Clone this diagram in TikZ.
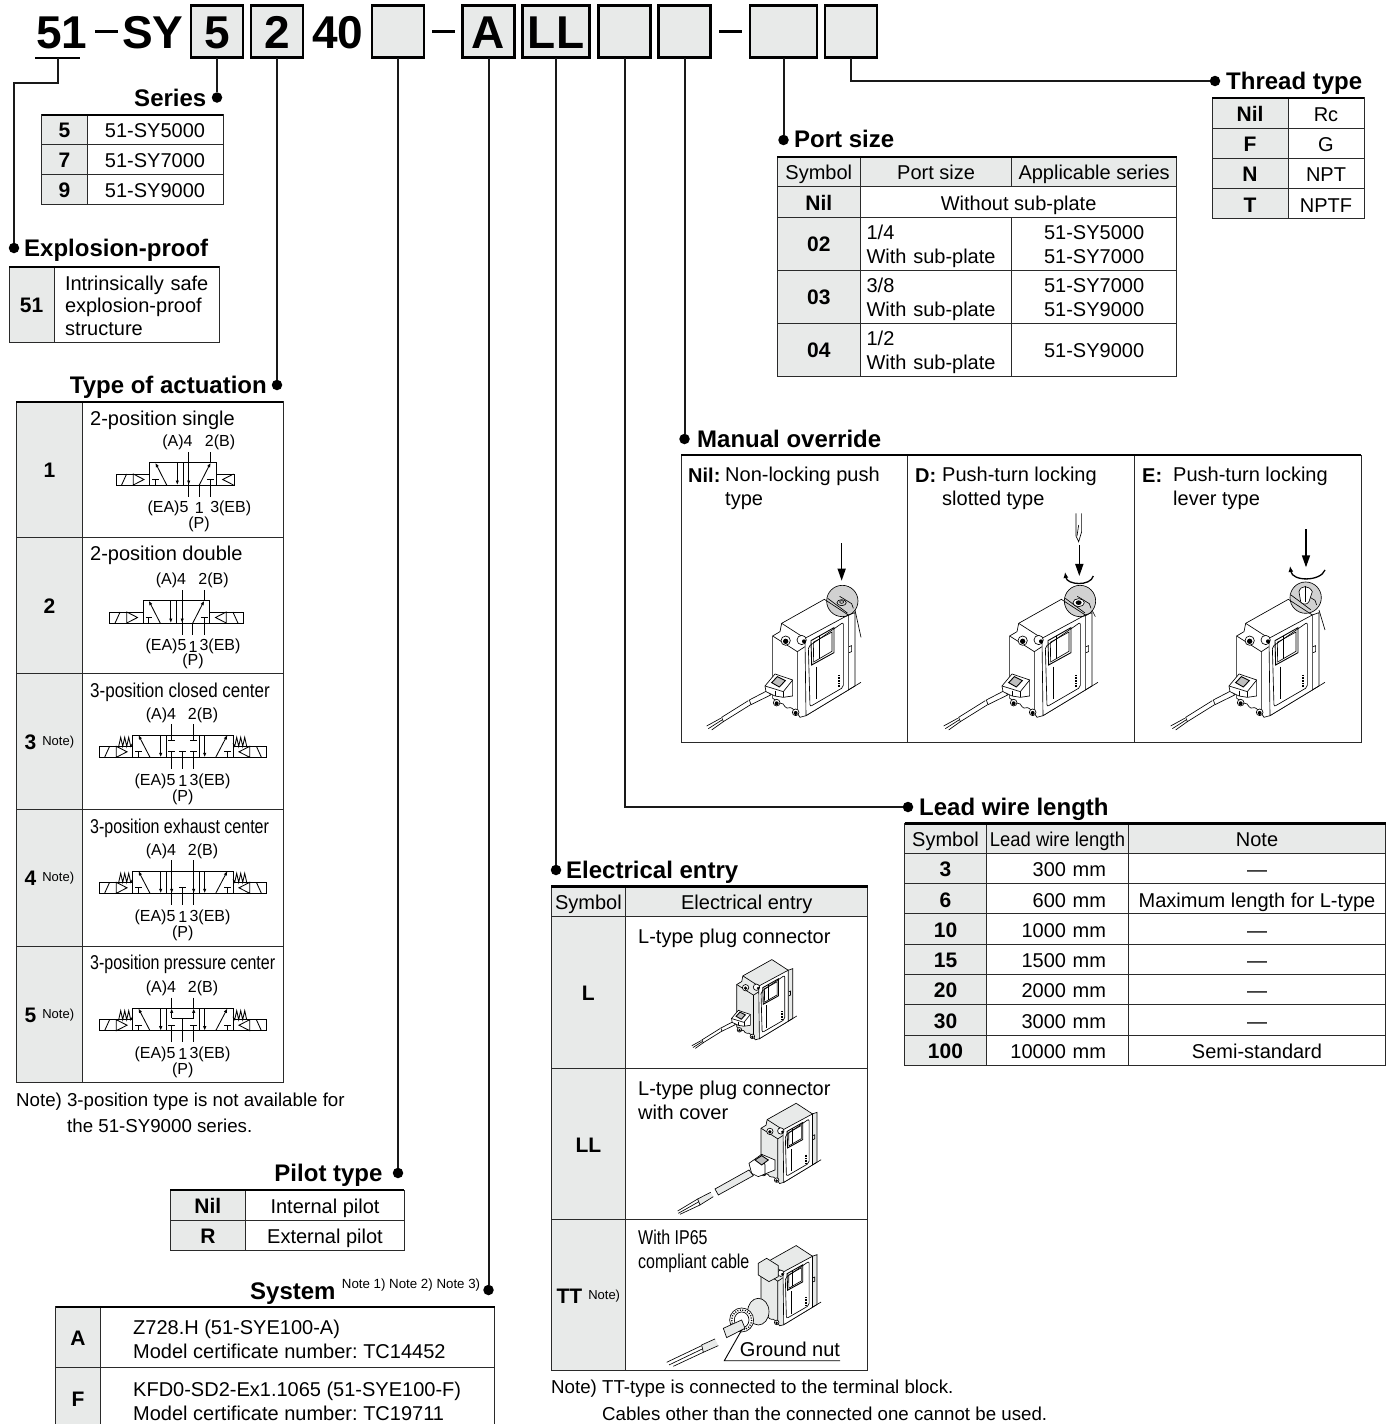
\documentclass[tikz,border=0pt]{standalone}
\usepackage{fontspec}
\setmainfont{Liberation Sans}
\usetikzlibrary{arrows.meta, positioning}

\definecolor{cellg}{HTML}{E8EAE9}
\definecolor{gridc}{HTML}{2A2A2A}
\frenchspacing

\newcommand{\cellfont}{\fontsize{20}{24}\selectfont}
\newcommand{\keyfont}{\fontsize{21}{24}\selectfont\bfseries}
\newcommand{\headfont}{\fontsize{24}{28}\selectfont\bfseries}
\newcommand{\bigfont}{\fontsize{46}{50}\selectfont\bfseries}
\newcommand{\portfont}{\fontsize{16}{18}\selectfont}
\newcommand{\footfont}{\fontsize{18.7}{24}\selectfont}
\newcommand{\noteup}[1]{\hspace{6pt}\raisebox{4pt}{\fontsize{13}{15}\selectfont\mdseries #1}}
\newcommand{\narrowed}[2]{\scalebox{#1}[1]{#2}}

\tikzset{
    cellbox/.style 2 args={draw=gridc, line width=1pt, inner sep=0pt, outer sep=0pt, minimum width=#1pt, minimum height=#2pt},
    keycell/.style 2 args={cellbox={#1}{#2}, fill=cellg, font=\keyfont, text height=16.5pt, text depth=0pt},
    headcell/.style 2 args={cellbox={#1}{#2}, fill=cellg, font=\cellfont, text height=16.5pt, text depth=0pt},
    valcell/.style 2 args={cellbox={#1}{#2}, font=\cellfont, text height=16.5pt, text depth=0pt},
    multicell/.style 2 args={cellbox={#1}{#2}, font=\cellfont, align=center},
    selbox/.style={draw=black, line width=2.5pt, fill=cellg, inner sep=0pt, outer sep=0pt, minimum height=52pt, font=\bigfont, text height=33pt, text depth=0pt},
    dashbar/.style={fill=black, inner sep=0pt, minimum width=23pt, minimum height=3pt},
    bigtext/.style={font=\bigfont, inner sep=0pt, anchor=base west},
    heading/.style={font=\headfont, inner sep=0pt},
    dot/.style={circle, fill=black, inner sep=0pt, minimum size=10.5pt},
    leader/.style={line width=2pt, draw=black!90},
    topline/.style={line width=2.4pt, draw=black},
    celltext/.style={font=\cellfont, inner sep=0pt, anchor=west, align=left, yshift=-1.5pt},
    foottext/.style={font=\footfont, inner sep=0pt, anchor=west, yshift=-1.5pt},
    portlabel/.style={font=\portfont, inner sep=0pt},
    valveline/.style={line width=.85pt, draw=black},
    valvearrow/.style={line width=.85pt, -{Latex[length=4.5pt,width=3.4pt]}},
    devline/.style={line width=.65pt, draw=black},
    pusharrow/.style={line width=1.5pt, -{Triangle[length=12pt,width=8pt]}},
    turnarrow/.style={line width=1.3pt, {Latex[length=6pt,width=5pt]}-},
    % solenoid end of a valve, grows to the right of its origin
    pics/solbox/.style={code={
        \draw[valveline] (0,0) rectangle (33.3,-11);
        \draw[valveline] (5.3,0) -- (10.3,-11);
        \draw[valveline] (17,-11) -- (17,0) -- (27.7,-5.5) -- cycle;
    }},
    pics/tbar/.style={code={
        \draw[valveline] (0,-5.7) -- (0,0);
        \draw[valveline] (-3.3,-5.7) -- (3.3,-5.7);
    }},
    % the two outer blocks are the same in every valve
    pics/twopos/.style={code={
        \draw[valveline] (-33.3,-22.3) rectangle (33.3,0);
        \draw[valveline] (0,-22.3) -- (0,0);
        \draw[valvearrow] (-16.3,0) -- (-27.7,-22.3);
        \pic at (-27.7,0) {tbar};
        \draw[valvearrow] (-5.7,-22.3) -- (-5.7,0);
        \draw[valveline] (5.7,-33) -- (5.7,11.5);
        \draw[valvearrow] (5.7,-22.3) -- (5.7,0);
        \draw[valvearrow] (16.3,0) -- (27.7,-22.3);
        \draw[valveline] (27.7,-33) -- (27.7,-22.3);
        \pic at (27.7,0) {tbar};
        \draw[valveline] (16.3,0) -- (16.3,11.5);
        \draw[valveline] (27.7,0) -- (27.7,11.5);
    }},
    pics/threepos/.style={code={
        \draw[valveline] (-50,-22.3) rectangle (50.3,0);
        \draw[valveline] (-16.5,-22.3) -- (-16.5,0);
        \draw[valveline] (16.5,-22.3) -- (16.5,0);
        \pic at (-83.4,0) {solbox};
        \pic[xscale=-1] at (84,0) {solbox};
        \draw[valvearrow] (-32.7,0) -- (-44.3,-22.3);
        \pic at (-44.3,0) {tbar};
        \draw[valvearrow] (-22,-22.3) -- (-22,0);
        \draw[valvearrow] (22,-22.3) -- (22,0);
        \draw[valvearrow] (33,0) -- (44.7,-22.3);
        \pic at (44.7,0) {tbar};
        \draw[valveline] (-64,-11) -- (-62,-20) -- (-60,-11) -- (-58,-20) -- (-56,-11) -- (-54,-20) -- (-52,-11) -- (-50,-14);
        \draw[valveline] (64,-11) -- (62,-20) -- (60,-11) -- (58,-20) -- (56,-11) -- (54,-20) -- (52,-11) -- (50.3,-14);
        \node[portlabel] (a4) at (-21.7,-42.3) {(A)4};
        \node[portlabel] (b2) at (20.3,-42.3) {2(B)};
        \node[portlabel] (ea5) at (-27.7,23.7) {(EA)5};
        \node[portlabel] (p1) at (0,23.7) {1};
        \node[portlabel] (eb3) at (27.3,23.7) {3(EB)};
        \node[portlabel] (pp) at (0,39.7) {(P)};
    }},
    % device, coordinates
    pics/devicebody/.style={code={
        \draw[devline, fill=#1] (278,558) -- (300,545) -- (305,520) -- (433,448) -- (505,495) -- (525,488) -- (525,708) -- (378,797) -- (360,802) -- (352,790) -- (340,778) .. controls (325,765) and (325,782) .. (315,770) .. controls (308,752) and (298,768) .. (290,752) -- (278,745) -- cycle;
        \draw[devline, fill=white] (375,565) -- (505,495) -- (505,720) -- (378,797) -- cycle;
        \draw[devline] (278,558) -- (352,605) -- (352,790);
        \draw[devline] (305,520) -- (375,565);
        \draw[devline] (352,605) -- (375,590);
        \draw[devline] (505,720) -- (543,697);
        \draw[devline, fill=white] (317,572) circle (14);
        \fill (317,574) circle (8);
        \draw[devline, fill=white] (365,570) circle (14);
        \fill (372,574) circle (6);
        \draw[devline, fill=white] (290,758) circle (10);
        \fill (290,760) circle (6);
        \draw[devline, fill=white] (347,787) circle (10);
        \fill (347,789) circle (6);
        \draw[devline, rounded corners=2pt] (385,590) -- (490,517) -- (490,712) -- (390,770) -- cycle;
        \draw[line width=.9pt] (393,572) -- (462,533) -- (462,608) -- (395,645) -- cycle;
        \draw[devline] (400,577) -- (456,546) -- (456,604) -- (401,636) -- cycle;
        \draw[devline] (418,557) -- (418,628);
        \draw[devline] (410,650) -- (410,748);
        \draw[line width=2pt, dash pattern=on .8pt off .8pt] (478,675) -- (478,712);
        \draw[devline] (507,590) -- (515,587) -- (515,605) -- (507,608);
    }},
    pics/devicebody/.default=white,
    pics/plugwires/.style={code={
        \draw[devline, fill=white] (262,722) -- (208,750) -- (213,764) -- (272,735) -- cycle;
        \draw[devline] (205,752) -- (125,802) -- (130,815) -- (212,764);
        \draw[devline] (122,805) -- (80,828);
        \draw[devline] (126,810) -- (85,836);
        \draw[devline] (130,815) -- (95,840);
        \draw[devline, fill=white] (255,708) -- (285,672) -- (338,690) -- (338,738) -- (310,742) -- (285,738) -- (258,725) -- cycle;
        \draw[devline] (255,708) -- (310,725) -- (338,690);
        \draw[devline] (310,725) -- (310,742);
        \draw[devline] (285,722) -- (285,738);
        \draw[line width=.9pt, fill=black!25] (275,698) -- (292,680) -- (316,692) -- (298,711) -- cycle;
    }},
    pics/spotglass/.style={code={
        \draw[devline, fill=black, fill opacity=.18] (0,0) circle (47);
        \draw[devline] (-44,-8) -- (15,36);
        \draw[devline] (-8,-14) -- (28,8) -- (33,22);
    }},
}

\begin{document}
\begin{tikzpicture}[x=1pt, y=-1pt]
\clip (0,0) rectangle (1391,1424);

% Part number
\node[bigtext] (t51) at (36,48) {51};
\node[dashbar] (dash1) at (106.5,31.5) {};
\node[bigtext] (tsy) at (122,48) {SY};
\node[selbox, minimum width=52pt] (box5) at (217,31.5) {5};
\node[selbox, minimum width=52pt, right=8pt of box5] (box2) {2};
\node[bigtext] (t40) at (312,48) {40};
\node[selbox, minimum width=52pt] (boxpilot) at (398,31.5) {};
\node[dashbar] (dash2) at (443.5,31.5) {};
\node[selbox, minimum width=52pt] (boxa) at (488.5,31.5) {A};
\node[selbox, minimum width=67pt, right=8pt of boxa] (boxll) {LL};
\node[selbox, minimum width=52pt, right=9pt of boxll] (boxlead) {};
\node[selbox, minimum width=52pt, right=8pt of boxlead] (boxmanual) {};
\node[dashbar] (dash3) at (730.5,31.5) {};
\node[selbox, minimum width=67pt] (boxport) at (783.5,31.5) {};
\node[selbox, minimum width=52pt, right=8pt of boxport] (boxthread) {};
\coordinate (ul51a) at (35,58);
\coordinate (ul51m) at (58,58);
\coordinate (ul51b) at (80,58);
\coordinate (bend51) at (58,83);
\draw[line width=2pt] (ul51a) -- (ul51b);

% Dots
\node[dot] (dotexpl) at (14,248) {};
\node[dot] (dotseries) at (217,97.5) {};
\node[dot] (dottype) at (277,385) {};
\node[dot] (dotpilot) at (398,1173) {};
\node[dot] (dotsystem) at (488.5,1290) {};
\node[dot] (dotentry) at (556,870) {};
\node[dot] (dotlead) at (908,807) {};
\node[dot] (dotmanual) at (684.5,439) {};
\node[dot] (dotport) at (783.5,140) {};
\node[dot] (dotthread) at (1215,81) {};

% Leaders
\draw[leader] (ul51m) -- (bend51) -| (dotexpl);
\draw[leader] (box5) -- (dotseries);
\draw[leader] (box2) -- (dottype);
\draw[leader] (boxpilot) -- (dotpilot);
\draw[leader] (boxa) -- (dotsystem);
\draw[leader] (boxll) -- (dotentry);
\draw[leader] (boxlead) |- (dotlead);
\draw[leader] (boxmanual) -- (dotmanual);
\draw[leader] (boxport) -- (dotport);
\draw[leader] (boxthread) |- (dotthread);

% Series
\node[heading, anchor=base east] (hseries) at (206.5,106) {Series};
\node[keycell={45.3}{29.6}, anchor=north west] (ser5) at (41.7,114.7) {5};
\node[valcell={136}{29.6}, right=0pt of ser5] (ser5v) {51-SY5000};
\node[keycell={45.3}{30}, below=0pt of ser5] (ser7) {7};
\node[valcell={136}{30}, right=0pt of ser7] (ser7v) {51-SY7000};
\node[keycell={45.3}{30.4}, below=0pt of ser7] (ser9) {9};
\node[valcell={136}{30.4}, right=0pt of ser9] (ser9v) {51-SY9000};
\draw[topline] (ser5.north west) -- (ser5v.north east);

% Explosion-proof
\node[heading, anchor=base west] (hexpl) at (24,256.7) {Explosion-proof};
\node[keycell={45.3}{75.6}, anchor=north west] (ex51) at (9,266.7) {51};
\node[cellbox={165}{75.6}, right=0pt of ex51, inner xsep=10.7pt, text width=143.6pt, align=left, font=\fontsize{20}{22.5}\selectfont] (ex51v) {\rule{0pt}{17pt}Intrinsically safe\\explosion-proof\\structure};
\draw[topline] (ex51.north west) -- (ex51v.north east);

% Type of actuation
\node[heading, anchor=base east] (htype) at (267,393.5) {Type of actuation};
\node[keycell={66.7}{136}, anchor=north west] (ty1) at (16,401.7) {1};
\node[valcell={200.6}{136}, right=0pt of ty1] (ty1v) {};
\node[keycell={66.7}{135.6}, below=0pt of ty1] (ty2) {2};
\node[valcell={200.6}{135.6}, right=0pt of ty2] (ty2v) {};
\node[keycell={66.7}{136}, below=0pt of ty2] (ty3) {3\noteup{Note)}};
\node[valcell={200.6}{136}, right=0pt of ty3] (ty3v) {};
\node[keycell={66.7}{136.7}, below=0pt of ty3] (ty4) {4\noteup{Note)}};
\node[valcell={200.6}{136.7}, right=0pt of ty4] (ty4v) {};
\node[keycell={66.7}{136.3}, below=0pt of ty4] (ty5) {5\noteup{Note)}};
\node[valcell={200.6}{136.3}, right=0pt of ty5] (ty5v) {};
\draw[topline] (ty1.north west) -- (ty1v.north east);
\node[celltext] (ty1t) at (90,419) {2-position single};
\node[celltext] (ty2t) at (90,554) {2-position double};
\node[celltext] (ty3t) at (90,690.7) {\narrowed{.85}{3-position closed center}};
\node[celltext] (ty4t) at (90,826.7) {\narrowed{.8}{3-position exhaust center}};
\node[celltext] (ty5t) at (90,962.7) {\narrowed{.8}{3-position pressure center}};

% Valve 1
\pic at (183,485) {twopos};
\pic at (116.3,485) {solbox};
\draw[valveline] (216.3,474) -- (234,474) -- (234,485) -- (216.3,485);
\draw[valveline] (233.5,474) -- (222.7,479.5) -- (233.5,485);
\node[portlabel] (v1a4) at (177.5,442.5) {(A)4};
\node[portlabel] (v1b2) at (220,442.5) {2(B)};
\node[portlabel] (v1ea5) at (168,508.3) {(EA)5};
\node[portlabel] (v1p1) at (199.3,508.3) {1};
\node[portlabel] (v1eb3) at (230.7,508.3) {3(EB)};
\node[portlabel] (v1pp) at (199,524.3) {(P)};

% Valve 2
\pic at (176.5,623) {twopos};
\pic at (109.8,623) {solbox};
\pic[xscale=-1] at (243.2,623) {solbox};
\node[portlabel] (v2a4) at (171,580) {(A)4};
\node[portlabel] (v2b2) at (213.5,580) {2(B)};
\node[portlabel] (v2ea5) at (166,646.7) {(EA)5};
\node[portlabel] (v2p1) at (193,646.7) {1};
\node[portlabel] (v2eb3) at (220,646.7) {3(EB)};
\node[portlabel] (v2pp) at (193,661.7) {(P)};

% Valve 3, closed center
\pic (v3) at (182.7,757.3) {threepos};
\draw[valveline] (171.7,724.3) -- (171.7,740);
\draw[valveline] (168.4,740) -- (175,740);
\draw[valveline] (193.7,724.3) -- (193.7,740);
\draw[valveline] (190.4,740) -- (197,740);
\pic at (171.7,757.3) {tbar};
\pic at (182.7,757.3) {tbar};
\pic at (193.7,757.3) {tbar};
\draw[valveline] (171.7,757.3) -- (171.7,769);
\draw[valveline] (182.7,757.3) -- (182.7,769);
\draw[valveline] (193.7,757.3) -- (193.7,769);

% Valve 4, exhaust center
\pic (v4) at (182.7,893.3) {threepos};
\draw[valveline] (171.7,860.3) -- (171.7,905);
\draw[valvearrow] (171.7,871) -- (171.7,893.3);
\draw[valveline] (193.7,860.3) -- (193.7,905);
\draw[valvearrow] (193.7,871) -- (193.7,893.3);
\pic at (182.7,893.3) {tbar};
\draw[valveline] (182.7,893.3) -- (182.7,905);

% Valve 5, pressure center
\pic (v5) at (182.7,1030.7) {threepos};
\draw[valveline] (171.7,997.7) -- (171.7,1008);
\draw[valveline] (193.7,997.7) -- (193.7,1008);
\draw[valveline] (171.7,1018.3) -- (193.7,1018.3);
\draw[valvearrow] (171.7,1018.3) -- (171.7,1008.4);
\draw[valvearrow] (193.7,1018.3) -- (193.7,1008.4);
\draw[valveline] (182.7,1018.3) -- (182.7,1042.4);
\pic at (171.7,1030.7) {tbar};
\pic at (193.7,1030.7) {tbar};
\draw[valveline] (171.7,1030.7) -- (171.7,1042.4);
\draw[valveline] (193.7,1030.7) -- (193.7,1042.4);

\node[foottext] (ntype1) at (16,1100) {Note) 3-position type is not available for};
\node[foottext] (ntype2) at (67,1124) {the 51-SY9000 series.};

% Pilot type
\node[heading, anchor=base east] (hpilot) at (382.7,1181.7) {Pilot type};
\node[keycell={75.7}{30}, anchor=north west] (pilnil) at (170,1190) {Nil};
\node[valcell={158.6}{30}, right=0pt of pilnil] (pilnilv) {Internal pilot};
\node[keycell={75.7}{30}, below=0pt of pilnil] (pilr) {R};
\node[valcell={158.6}{30}, right=0pt of pilr] (pilrv) {External pilot};
\draw[topline] (pilnil.north west) -- (pilnilv.north east);

% System
\node[heading, anchor=base west] (hsystem) at (250,1299.3) {System};
\node[inner sep=0pt, anchor=west, font=\fontsize{13.3}{15}\selectfont] (nsystem) at (341.7,1285.5) {Note 1) Note 2) Note 3)};
\node[keycell={44.6}{61}, anchor=north west] (sysa) at (55.7,1306.7) {A};
\node[valcell={394.4}{61}, right=0pt of sysa] (sysav) {};
\node[keycell={44.6}{61}, below=0pt of sysa] (sysf) {F};
\node[valcell={394.4}{61}, right=0pt of sysf] (sysfv) {};
\draw[topline] (sysa.north west) -- (sysav.north east);
\node[celltext] (sysat) at (133,1337.5) {Z728.H (51-SYE100-A)\\Model certificate number: TC14452};
\node[celltext] (sysft) at (133,1399.5) {KFD0-SD2-Ex1.1065 (51-SYE100-F)\\Model certificate number: TC19711};

% Port size
\node[heading, anchor=base west] (hport) at (794,147.3) {Port size};
\node[headcell={83.6}{30}, anchor=north west] (poh1) at (777,156.7) {Symbol};
\node[headcell={151}{30}, right=0pt of poh1] (poh2) {Port size};
\node[headcell={165}{30}, right=0pt of poh2] (poh3) {Applicable series};
\node[keycell={83.6}{30.3}, below=0pt of poh1] (ponil) {Nil};
\node[valcell={316}{30.3}, right=0pt of ponil] (ponilv) {Without sub-plate};
\node[keycell={83.6}{53}, below=0pt of ponil] (po02) {02};
\node[cellbox={151}{53}, right=0pt of po02, inner xsep=6pt, text width=139pt, align=left, font=\cellfont] (po02a) {\rule{0pt}{20pt}1/4\\With sub-plate};
\node[multicell={165}{53}, right=0pt of po02a] (po02b) {\rule{0pt}{16.5pt}51-SY5000\\51-SY7000};
\node[keycell={83.6}{53}, below=0pt of po02] (po03) {03};
\node[cellbox={151}{53}, right=0pt of po03, inner xsep=6pt, text width=139pt, align=left, font=\cellfont] (po03a) {\rule{0pt}{20pt}3/8\\With sub-plate};
\node[multicell={165}{53}, right=0pt of po03a] (po03b) {\rule{0pt}{16.5pt}51-SY7000\\51-SY9000};
\node[keycell={83.6}{53}, below=0pt of po03] (po04) {04};
\node[cellbox={151}{53}, right=0pt of po04, inner xsep=6pt, text width=139pt, align=left, font=\cellfont] (po04a) {\rule{0pt}{20pt}1/2\\With sub-plate};
\node[valcell={165}{53}, right=0pt of po04a] (po04b) {51-SY9000};
\draw[topline] (poh1.north west) -- (poh3.north east);

% Thread type
\node[heading, anchor=base west] (hthread) at (1226,89) {Thread type};
\node[keycell={76}{30.3}, anchor=north west] (thnil) at (1212,97.7) {Nil};
\node[valcell={76}{30.3}, right=0pt of thnil] (thnilv) {Rc};
\node[keycell={76}{30.3}, below=0pt of thnil] (thf) {F};
\node[valcell={76}{30.3}, right=0pt of thf] (thfv) {G};
\node[keycell={76}{30.3}, below=0pt of thf] (thn) {N};
\node[valcell={76}{30.3}, right=0pt of thn] (thnv) {NPT};
\node[keycell={76}{30.3}, below=0pt of thn] (tht) {T};
\node[valcell={76}{30.3}, right=0pt of tht] (thtv) {NPTF};
\draw[topline] (thnil.north west) -- (thnilv.north east);

% Manual override
\node[heading, anchor=base west] (hmanual) at (697,447) {Manual override};
\node[cellbox={226}{287.5}, anchor=north west] (mapanel1) at (681,455) {};
\node[cellbox={227}{287.5}, right=0pt of mapanel1] (mapanel2) {};
\node[cellbox={227}{287.5}, right=0pt of mapanel2] (mapanel3) {};
\draw[topline] (mapanel1.north west) -- (mapanel3.north east);
\node[celltext, font=\cellfont\bfseries] (manil) at (688,474) {Nil:};
\node[celltext] (manilt) at (725,487) {Non-locking push\\type};
\node[celltext, font=\cellfont\bfseries] (mad) at (915,474) {D:};
\node[celltext] (madt) at (942,487) {Push-turn locking\\slotted type};
\node[celltext, font=\cellfont\bfseries] (mae) at (1142,474) {E:};
\node[celltext] (maet) at (1173,487) {Push-turn locking\\lever type};

% Manual override, panel Nil
\begin{scope}[shift={(680,450)}, scale=.3333, every pic/.style={scale=.3333}]
\pic {devicebody};
\pic {plugwires};
\pic at (487,453) {spotglass};
\draw[devline] (525,480) -- (543,562);
\draw[devline] (485,458) ellipse (14 and 9);
\draw[devline] (485,456) ellipse (6 and 4);
\draw[pusharrow] (485,280) -- (485,392);
\end{scope}

% Manual override, panel D
\begin{scope}[shift={(917,450)}, scale=.3333, every pic/.style={scale=.3333}]
\pic {devicebody};
\pic {plugwires};
\pic at (489,453) {spotglass};
\draw[devline] (525,480) -- (535,500);
\draw[devline, fill=white] (485,458) ellipse (17 and 12);
\fill (485,458) ellipse (9 and 7);
\draw[pusharrow] (487,285) -- (487,378);
\draw[turnarrow] (444,366) .. controls (450,405) and (520,410) .. (529,378);
\draw[devline] (477,190) -- (477,258) -- (485,275) -- (494,245) -- (494,190);
\draw[devline] (485,225) -- (480,258);
\end{scope}

% Manual override, panel E
\begin{scope}[shift={(1144,450)}, scale=.3333, every pic/.style={scale=.3333}]
\pic {devicebody};
\pic {plugwires};
\pic at (485,443) {spotglass};
\draw[devline] (525,480) -- (543,540);
\draw[devline, fill=white] (470,455) -- (465,425) .. controls (470,405) and (495,405) .. (505,425) -- (495,455) .. controls (490,465) and (475,465) .. (470,455);
\draw[devline] (485,408) -- (485,455);
\draw[pusharrow] (486,238) -- (486,352);
\draw[turnarrow] (438,348) .. controls (445,395) and (530,395) .. (543,360);
\end{scope}

% Electrical entry
\node[heading, anchor=base west] (hentry) at (566,878.3) {Electrical entry};
\node[headcell={74.7}{30.2}, anchor=north west] (eeh1) at (551,886.5) {Symbol};
\node[headcell={242}{30.2}, right=0pt of eeh1] (eeh2) {Electrical entry};
\node[keycell={74.7}{151.6}, below=0pt of eeh1] (eel) {L};
\node[valcell={242}{151.6}, right=0pt of eel] (eelv) {};
\node[keycell={74.7}{151}, below=0pt of eel] (eell) {LL};
\node[valcell={242}{151}, right=0pt of eell] (eellv) {};
\node[keycell={74.7}{151.4}, below=0pt of eell] (eett) {TT\noteup{Note)}};
\node[valcell={242}{151.4}, right=0pt of eett] (eettv) {};
\draw[topline] (eeh1.north west) -- (eeh2.north east);
\node[celltext] (eelt) at (638,936.7) {L-type plug connector};
\node[celltext] (eellt) at (638,1098.5) {L-type plug connector\\with cover};
\node[celltext] (eettt) at (638,1250) {\narrowed{.8}{With IP65}\\\narrowed{.8}{compliant cable}};

% Device, type L
\begin{scope}[shift={(673.7,858)}, every pic/.style={scale=.2267}]
\pic {devicebody=cellg};
\pic {plugwires};
\end{scope}

% Device, type LL
\begin{scope}[shift={(698,1001.7)}, every pic/.style={scale=.2267}]
\pic {devicebody=cellg};
\end{scope}
\begin{scope}[shift={(545,915)}, scale=.3333]
\draw[devline, fill=white] (612,745) -- (650,718) -- (690,735) -- (690,765) -- (640,785) -- (620,775) -- cycle;
\draw[devline] (650,718) -- (660,750) -- (660,780);
\draw[line width=.9pt, fill=black!25] (630,735) -- (650,722) -- (670,735) -- (650,750) -- cycle;
\draw[devline, fill=cellg] (612,765) -- (510,822) -- (520,840) -- (625,782) -- cycle;
\draw[devline, fill=cellg] (497,832) -- (458,852) -- (465,870) -- (505,845);
\draw[devline] (458,852) -- (398,888);
\draw[devline] (462,860) -- (400,895);
\draw[devline] (465,870) -- (405,898);
\end{scope}

% Device, type TT
\begin{scope}[shift={(698,1144)}, every pic/.style={scale=.2267}]
\pic {devicebody=cellg};
\end{scope}
\begin{scope}[shift={(545,915)}, scale=.3333]
\draw[devline, fill=cellg] (640,1045) -- (665,1030) -- (700,1052) -- (700,1085) -- (672,1100) -- (640,1080) -- cycle;
\draw[devline, fill=cellg] (640,1190) ellipse (32 and 40);
\draw[devline, fill=white] (590,1215) ellipse (36 and 36);
\draw[devline] (590,1215) ellipse (22 and 24);
\draw[line width=1.4pt, dash pattern=on 1pt off 1.5pt] (590,1215) ellipse (30 and 30);
\draw[devline, fill=cellg] (590,1215) -- (535,1240) -- (545,1268) -- (600,1240) -- cycle;
\draw[devline, fill=cellg] (510,1272) -- (470,1290) -- (475,1312) -- (520,1292);
\draw[devline] (470,1292) -- (365,1342);
\draw[devline] (472,1302) -- (372,1350);
\draw[devline] (475,1312) -- (385,1354);
\end{scope}

% Ground nut
\node[font=\cellfont, inner sep=0pt] (gnut) at (790,1349) {Ground nut};
\coordinate (gnutstart) at (741.7,1330);
\coordinate (gnutbend) at (724.3,1360.7);
\coordinate (gnutend) at (840,1360.7);
\draw[devline, line width=.9pt] (gnutstart) -- (gnutbend) -- (gnutend);

\node[foottext] (nentry1) at (551,1387) {Note) TT-type is connected to the terminal block.};
\node[foottext] (nentry2) at (602,1412) {Cables other than the connected one cannot be used.};

% Lead wire length
\node[heading, anchor=base west] (hlead) at (919,815.7) {Lead wire length};
\node[headcell={82}{30}, anchor=north west] (leh1) at (904.5,823.3) {Symbol};
\node[headcell={142}{30}, right=0pt of leh1] (leh2) {\narrowed{.92}{Lead wire length}};
\node[headcell={257}{30}, right=0pt of leh2] (leh3) {Note};
\node[keycell={82}{30.3}, below=0pt of leh1] (le3) {3};
\node[valcell={142}{30.3}, right=0pt of le3, inner xsep=22.5pt, text width=97pt, align=right] (le3a) {300 mm};
\node[valcell={257}{30.3}, right=0pt of le3a] (le3b) {—};
\node[keycell={82}{30.3}, below=0pt of le3] (le6) {6};
\node[valcell={142}{30.3}, right=0pt of le6, inner xsep=22.5pt, text width=97pt, align=right] (le6a) {600 mm};
\node[valcell={257}{30.3}, right=0pt of le6a] (le6b) {Maximum length for L-type};
\node[keycell={82}{30.3}, below=0pt of le6] (le10) {10};
\node[valcell={142}{30.3}, right=0pt of le10, inner xsep=22.5pt, text width=97pt, align=right] (le10a) {1000 mm};
\node[valcell={257}{30.3}, right=0pt of le10a] (le10b) {—};
\node[keycell={82}{30.3}, below=0pt of le10] (le15) {15};
\node[valcell={142}{30.3}, right=0pt of le15, inner xsep=22.5pt, text width=97pt, align=right] (le15a) {1500 mm};
\node[valcell={257}{30.3}, right=0pt of le15a] (le15b) {—};
\node[keycell={82}{30.3}, below=0pt of le15] (le20) {20};
\node[valcell={142}{30.3}, right=0pt of le20, inner xsep=22.5pt, text width=97pt, align=right] (le20a) {2000 mm};
\node[valcell={257}{30.3}, right=0pt of le20a] (le20b) {—};
\node[keycell={82}{30.3}, below=0pt of le20] (le30) {30};
\node[valcell={142}{30.3}, right=0pt of le30, inner xsep=22.5pt, text width=97pt, align=right] (le30a) {3000 mm};
\node[valcell={257}{30.3}, right=0pt of le30a] (le30b) {—};
\node[keycell={82}{30.3}, below=0pt of le30] (le100) {100};
\node[valcell={142}{30.3}, right=0pt of le100, inner xsep=22.5pt, text width=97pt, align=right] (le100a) {10000 mm};
\node[valcell={257}{30.3}, right=0pt of le100a] (le100b) {Semi-standard};
\draw[topline] (leh1.north west) -- (leh3.north east);

\end{tikzpicture}
\end{document}
